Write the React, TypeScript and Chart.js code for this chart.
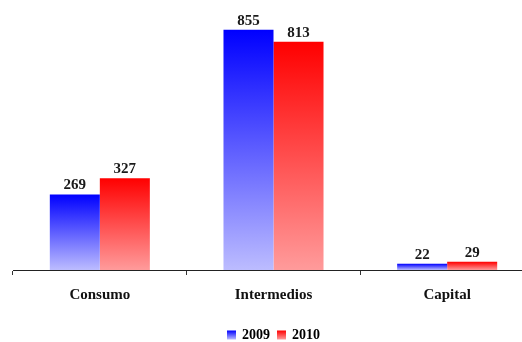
import React, { useEffect, useRef } from "react";
import { Chart, registerables } from "chart.js";

Chart.register(...registerables);

const categories = ["Consumo", "Intermedios", "Capital"];
const seriesNames = ["2009", "2010"];
const values2009 = [269, 855, 22];
const values2010 = [327, 813, 29];

const BLUE_TOP = "rgb(0,0,255)";
const BLUE_BOTTOM = "rgb(188,188,255)";
const RED_TOP = "rgb(255,0,0)";
const RED_BOTTOM = "rgb(255,155,155)";
const FONT = "'Liberation Serif', 'Times New Roman', serif";
const LEGEND_BOX = 9;

function gradientFill(top: string, bottom: string) {
  return (c: any) => {
    const chart = c.chart;
    if (!chart.chartArea || c.type !== "data") return top;
    const y = chart.scales.y;
    const v = c.raw as number;
    const yTop = y.getPixelForValue(v);
    const yBot = y.getPixelForValue(0);
    if (!isFinite(yTop) || !isFinite(yBot) || yTop === yBot) return top;
    const g = chart.ctx.createLinearGradient(0, yTop, 0, yBot);
    g.addColorStop(0, top);
    g.addColorStop(1, bottom);
    return g;
  };
}

const valueLabels = {
  id: "valueLabels",
  afterDatasetsDraw(chart: any) {
    const ctx = chart.ctx;
    ctx.save();
    ctx.font = `bold 15px ${FONT}`;
    ctx.fillStyle = "#1a1a1a";
    ctx.textAlign = "center";
    ctx.textBaseline = "alphabetic";
    chart.data.datasets.forEach((ds: any, i: number) => {
      const meta = chart.getDatasetMeta(i);
      meta.data.forEach((bar: any, j: number) => {
        ctx.fillText(String(ds.data[j]), bar.x, bar.y - 5);
      });
    });
    ctx.restore();
  },
};

const legendGradients = {
  id: "legendGradients",
  afterDraw(chart: any) {
    const legend = chart.legend;
    if (!legend || !legend.legendHitBoxes) return;
    const ctx = chart.ctx;
    const cols = [
      [BLUE_TOP, BLUE_BOTTOM],
      [RED_TOP, RED_BOTTOM],
    ];
    legend.legendHitBoxes.forEach((hb: any, i: number) => {
      const top = hb.top + (hb.height - LEGEND_BOX) / 2;
      const g = ctx.createLinearGradient(0, top, 0, top + LEGEND_BOX);
      g.addColorStop(0, cols[i][0]);
      g.addColorStop(1, cols[i][1]);
      ctx.save();
      ctx.fillStyle = g;
      ctx.fillRect(hb.left, top, LEGEND_BOX, LEGEND_BOX);
      ctx.restore();
    });
  },
};

export default function App() {
  const ref = useRef<HTMLCanvasElement>(null);
  useEffect(() => {
    if (!ref.current) return;
    const chart = new Chart(ref.current, {
      type: "bar",
      data: {
        labels: categories,
        datasets: [
          {
            label: seriesNames[0],
            data: values2009,
            backgroundColor: gradientFill(BLUE_TOP, BLUE_BOTTOM),
            borderWidth: 0,
            categoryPercentage: 0.576,
            barPercentage: 1.0,
          },
          {
            label: seriesNames[1],
            data: values2010,
            backgroundColor: gradientFill(RED_TOP, RED_BOTTOM),
            borderWidth: 0,
            categoryPercentage: 0.576,
            barPercentage: 1.0,
          },
        ],
      },
      options: {
        responsive: false,
        animation: false,
        layout: { padding: { left: 13, right: 0, top: 20, bottom: 0 } },
        scales: {
          x: {
            offset: true,
            grid: {
              display: true,
              drawOnChartArea: false,
              drawTicks: true,
              tickLength: 5,
              offset: true,
              color: "#333",
            },
            border: { display: true, color: "#222", width: 1 },
            ticks: {
              color: "#111",
              font: { family: FONT, size: 15, weight: "bold" },
              padding: 11,
            },
          },
          y: {
            display: false,
            min: 0,
            max: 890,
          },
        },
        plugins: {
          legend: {
            position: "bottom",
            labels: {
              boxWidth: 8,
              boxHeight: 26,
              padding: 7,
              color: "#111",
              font: { family: FONT, size: 14, weight: "bold" },
              generateLabels: (chart: any) =>
                chart.data.datasets.map((ds: any, i: number) => ({
                  text: ds.label,
                  fillStyle: "rgba(0,0,0,0)",
                  strokeStyle: "rgba(0,0,0,0)",
                  lineWidth: 0,
                  hidden: false,
                  datasetIndex: i,
                })),
            },
          },
          tooltip: { enabled: false },
        },
      },
      plugins: [valueLabels, legendGradients],
    });
    return () => chart.destroy();
  }, []);
  return (
    <div
      style={{
        position: "fixed",
        left: 0,
        top: 0,
        width: 522,
        height: 342,
        overflow: "hidden",
        background: "#fff",
      }}
    >
      <canvas ref={ref} width={534} height={358} style={{ display: "block" }} />
    </div>
  );
}
